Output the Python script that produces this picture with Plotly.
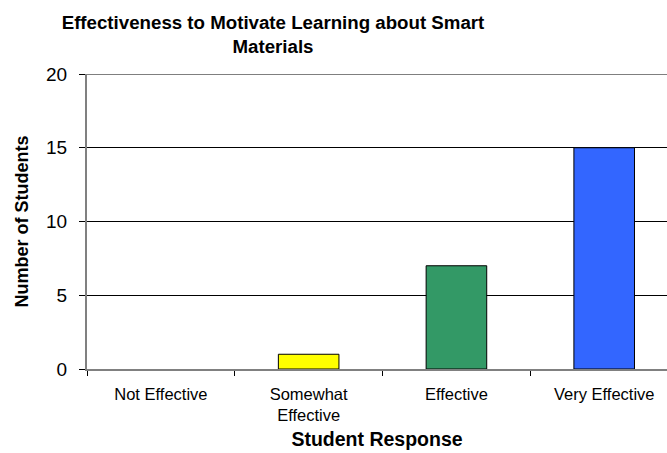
import plotly.graph_objects as go

# Survey responses
responses = ["Not Effective", "Somewhat<br>Effective", "Effective", "Very Effective"]
students = [0, 1, 7, 15]
bar_colors = ["#FFFFFF", "#FFFF00", "#339966", "#3366FF"]

y_ticks = [0, 5, 10, 15, 20]

FONT = "Liberation Sans, Arial, sans-serif"

# empty categories get no outline so no flat sliver is drawn
outline_widths = [1 if v > 0 else 0 for v in students]

fig = go.Figure(
    go.Bar(
        x=responses,
        y=students,
        width=0.41,
        marker=dict(color=bar_colors, line=dict(color="#000000", width=outline_widths)),
        hoverinfo="x+y",
    )
)

fig.update_layout(
    width=667,
    height=453,
    margin=dict(l=87, r=0, t=74, b=84),
    paper_bgcolor="white",
    plot_bgcolor="white",
    showlegend=False,
    font=dict(family=FONT, color="#000000"),
    title=dict(
        text="<b>Effectiveness to Motivate Learning about Smart<br>Materials</b>",
        x=273 / 667,
        xref="container",
        xanchor="center",
        y=1 - 29 / 453,
        yref="container",
        yanchor="middle",
        font=dict(size=18.7, family=FONT),
    ),
    # top gridline at the axis maximum, which sits on the plot edge
    shapes=[
        dict(
            type="line",
            xref="paper",
            x0=0,
            x1=1,
            yref="y",
            y0=y_ticks[-1],
            y1=y_ticks[-1],
            line=dict(color="#000000", width=1),
            layer="below",
        )
    ],
)

fig.update_xaxes(
    type="category",
    range=[-0.5, 3.425],
    tickson="boundaries",
    ticks="outside",
    ticklen=5,
    tickcolor="#000000",
    showline=True,
    linecolor="#808080",
    linewidth=2,
    showgrid=False,
    tickfont=dict(size=16.5, family=FONT),
    ticklabelstandoff=9,
    title=dict(text="<b>Student Response</b>", font=dict(size=19.5, family=FONT), standoff=9),
)

fig.update_yaxes(
    range=[0, 20],
    tickvals=y_ticks,
    ticks="outside",
    ticklen=6,
    tickcolor="#000000",
    showline=True,
    linecolor="#808080",
    linewidth=2,
    showgrid=True,
    gridcolor="#000000",
    gridwidth=1,
    zeroline=False,
    tickfont=dict(size=19, family=FONT),
    ticklabelstandoff=8,
    title=dict(text="<b>Number of Students</b>", font=dict(size=18, family=FONT), standoff=13),
)

fig.write_html("out.html")
